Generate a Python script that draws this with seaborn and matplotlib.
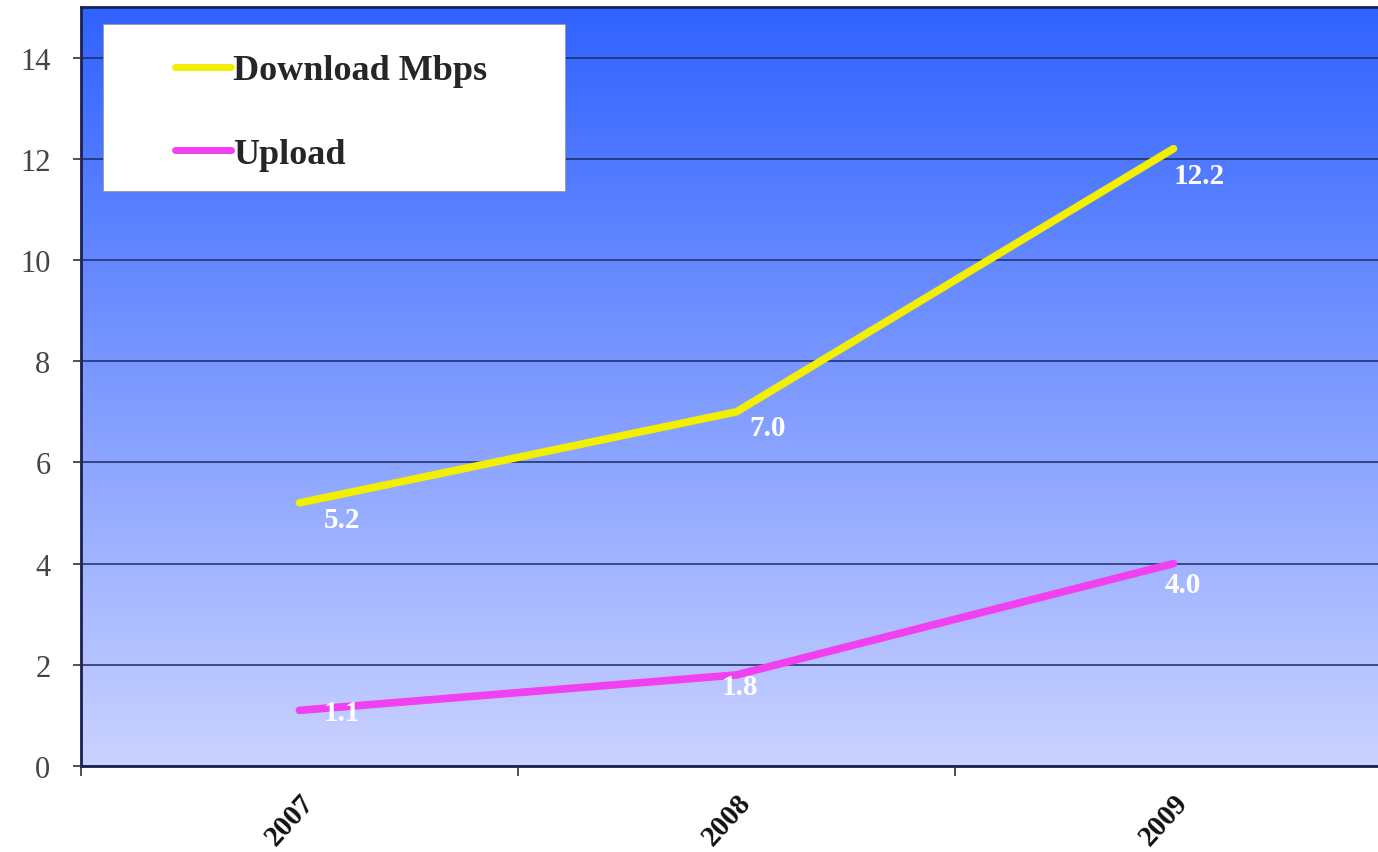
import numpy as np
import pandas as pd
import matplotlib
matplotlib.use("Agg")
import matplotlib.pyplot as plt
from matplotlib.patches import Rectangle
import seaborn as sns

# --- data ---
years = ["2007", "2008", "2009"]
download = [5.2, 7.0, 12.2]
upload = [1.1, 1.8, 4.0]
series_names = ["Download Mbps", "Upload"]

# label offsets (pixels, right / up) for each value label
dl_offsets = [(24, -3), (13, -2), (0, -13)]
ul_offsets = [(24, 11), (-15, 2), (-9, -7)]

sns.set_theme(style="white")
plt.rcParams["font.family"] = ["Liberation Serif", "DejaVu Serif"]

df = pd.DataFrame({
    "Year": years * 2,
    "Value": download + upload,
    "Series": [series_names[0]] * 3 + [series_names[1]] * 3,
})

fig = plt.figure(figsize=(13.78, 8.53), dpi=100)
ax = fig.add_axes([81 / 1378, 86 / 853, (1378 - 81) / 1378, (767 - 8) / 853])

x_max = (1378 - 81) / 437 - 0.5
y_max = 15.0

# gradient background
top = np.array([48, 98, 255]) / 255
bottom = np.array([202, 210, 255]) / 255
t = np.linspace(0, 1, 256)[:, None]
grad = (top * (1 - t) + bottom * t)[:, None, :]
ax.imshow(grad, extent=[-0.5, x_max, 0, y_max], aspect="auto", zorder=0,
          interpolation="bicubic")

sns.lineplot(data=df, x="Year", y="Value", hue="Series",
             palette={series_names[0]: "#F2F000", series_names[1]: "#F040F0"},
             linewidth=5.5, ax=ax, zorder=3, legend=False, sort=False)

for i, (v, off) in enumerate(zip(download, dl_offsets)):
    ax.annotate(f"{v:.1f}", (i, v), xytext=(off[0] / 1.389, off[1] / 1.389),
                textcoords="offset points", ha="left", va="top",
                color="white", fontsize=21, fontweight="bold", zorder=4)
for i, (v, off) in enumerate(zip(upload, ul_offsets)):
    ax.annotate(f"{v:.1f}", (i, v), xytext=(off[0] / 1.389, off[1] / 1.389),
                textcoords="offset points", ha="left", va="top",
                color="white", fontsize=21, fontweight="bold", zorder=4)

ax.set_yticks(np.arange(0, 15, 2))
ax.grid(axis="y", color="#1c2a66", linewidth=1.1, zorder=1)
ax.set_axisbelow(False)
for gl in ax.get_ygridlines():
    gl.set_zorder(1)

ax.set_xticks(range(len(years)))
ax.set_xticklabels(years, rotation=48, ha="right", rotation_mode="anchor",
                   fontsize=21, fontweight="bold", color="#111111")
ax.set_xticks(np.arange(-0.5, 3, 1.0), minor=True)
ax.set_xlim(-0.5, x_max)
ax.set_ylim(0, y_max)
ax.tick_params(axis="x", which="major", length=0, pad=16)
ax.tick_params(axis="x", which="minor", length=7, width=1.2, color="#333333",
               direction="out", bottom=True)
ax.tick_params(axis="y", length=6, width=1.2, color="#333333", direction="out",
               left=True, pad=16, labelsize=22, labelcolor="#444444")

for side in ["left", "bottom", "top"]:
    ax.spines[side].set_color("#1a2050")
    ax.spines[side].set_linewidth(2)
ax.spines["right"].set_visible(False)
ax.set_xlabel("")
ax.set_ylabel("")

# legend box
x0 = (103 - 81) / 1297
x1 = (565 - 81) / 1297
y1 = (767 - 25) / 759
y0 = (767 - 192) / 759
ax.add_patch(Rectangle((x0, y0), x1 - x0, y1 - y0, transform=ax.transAxes,
                       facecolor="white", edgecolor="#999999", linewidth=0.6,
                       zorder=5))
handles = [plt.Line2D([], [], color="#F2F000", linewidth=5),
           plt.Line2D([], [], color="#F040F0", linewidth=5)]
leg = ax.legend(handles, series_names, loc="upper left",
                bbox_to_anchor=((175 - 81) / 1297, (767 - 55) / 759),
                frameon=False, borderpad=0, borderaxespad=0,
                handlelength=1.55, handletextpad=0.05, labelspacing=1.4,
                prop={"family": "Liberation Serif", "weight": "bold", "size": 26})
leg.set_zorder(6)

fig.savefig("out.png", dpi=100)
